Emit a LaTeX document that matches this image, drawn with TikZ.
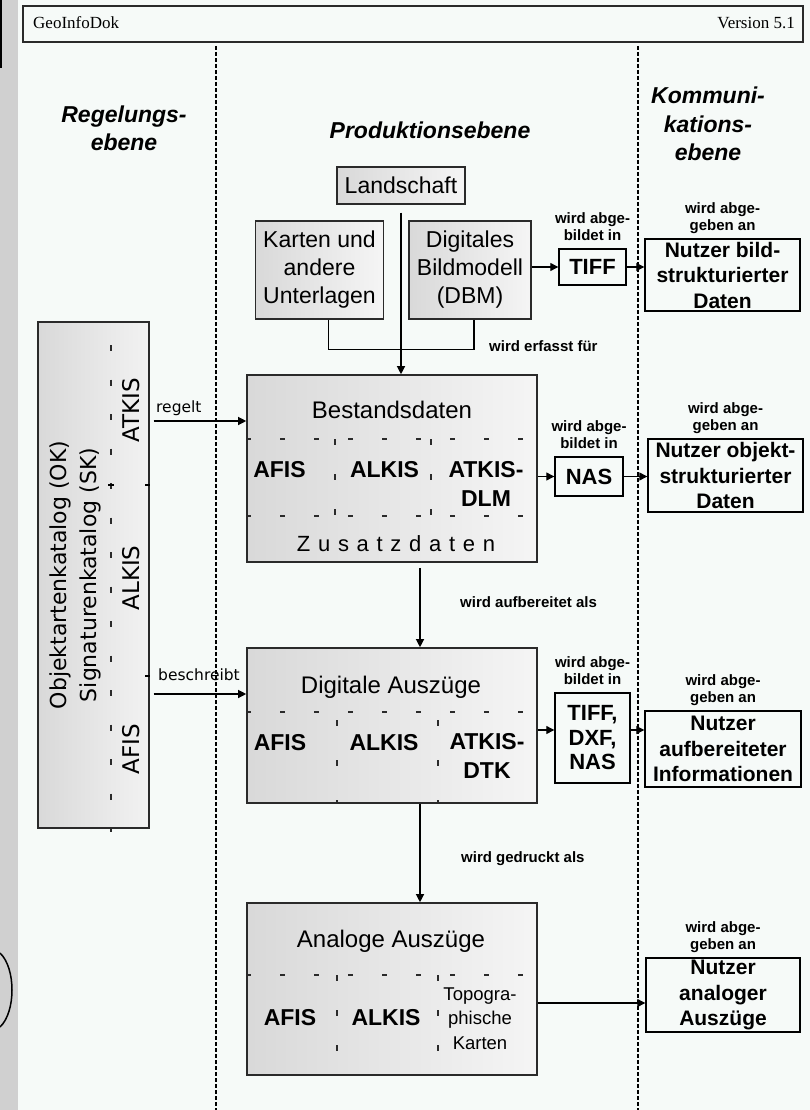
\documentclass[tikz,border=0pt]{standalone}
\usepackage{fontspec}
\setmainfont{Liberation Sans}
\newfontfamily\kopffont{Liberation Serif}
\newfontfamily\dejavu{DejaVu Sans}
\usepackage{tikz}
\usetikzlibrary{arrows.meta,positioning,calc}

\definecolor{papier}{HTML}{F6FAF8}
\definecolor{rand}{HTML}{D0D0D0}
\definecolor{linie}{HTML}{2A2A2A}
\newcommand{\fsz}[2]{\fontsize{#1}{#2}\selectfont}

\begin{document}
\begin{tikzpicture}[
    x=1pt, y=-1pt,
    ebene/.style={align=center, inner sep=0pt, font=\fsz{23}{28.5}\bfseries\itshape},
    quelle/.style={draw=linie, line width=1.4pt, left color=black!15, right color=black!4, align=center, inner sep=0pt, font=\fsz{23}{28}},
    bestand/.style={draw=linie, line width=1.6pt, left color=black!15, right color=black!4, minimum width=290pt, inner sep=0pt},
    titel/.style={anchor=base, inner sep=0pt, font=\fsz{24}{28}},
    teil/.style={anchor=base, align=center, inner sep=0pt, font=\fsz{23}{28.5}\bfseries},
    format/.style={draw, line width=1.4pt, align=center, inner sep=0pt, font=\fsz{22}{24.5}\bfseries},
    nutzer/.style={draw, line width=1.4pt, align=center, inner sep=0pt, minimum width=155pt, font=\fsz{21}{25.5}\bfseries},
    hinweis/.style={align=center, inner sep=0pt, font=\fsz{15}{17}\bfseries},
    verb/.style={anchor=base west, inner sep=0pt, font=\dejavu\fsz{15.5}{18}},
    pfeil/.style={line width=1.2pt, -{Triangle[length=8pt,width=8pt]}},
    spalte/.style={line width=1.2pt, dash pattern=on 4pt off 2pt},
    trenn/.style={line width=1.1pt, linie, dash pattern=on 5pt off 29pt},
    trennv/.style={line width=1.1pt, linie, dash pattern=on 6pt off 29pt}
  ]
    \useasboundingbox (0,0) rectangle (810,1110);
    \fill[rand] (0,0) rectangle (18,1110);
    \fill[papier] (18,0) rectangle (810,1110);
    \draw[line width=1.5pt] (0.75,0) -- (0.75,68);
    \draw[line width=1.5pt] (0,953) .. controls (16,968) and (16,1012) .. (0,1027);

    % Kopfzeile
    \node[draw=linie, line width=1.4pt, minimum width=780pt, minimum height=36pt, inner sep=0pt] (kopf) at (413,24) {};
    \node[anchor=base west, inner sep=0pt, font=\kopffont\fsz{17}{20}] (doktitel) at (33,29) {GeoInfoDok};
    \node[anchor=base east, inner sep=0pt, font=\kopffont\fsz{17}{20}] (version) at (795,29) {Version 5.1};

    % Ebenen (base = letzte Zeile)
    \draw[spalte] (216,46) -- (216,1110);
    \draw[spalte] (638,46) -- (638,1110);
    \node[ebene, anchor=base] (regelung) at (124,151) {Regelungs-\\ebene};
    \node[ebene, anchor=base] (produktion) at (430,139) {Produktionsebene};
    \node[ebene, anchor=base] (kommunikation) at (708,161) {Kommuni-\\kations-\\ebene};

    % Quellen
    \node[quelle, minimum width=128pt, minimum height=37pt] (landschaft) at (401,185.5) {Landschaft};
    \node[quelle, minimum width=128pt, minimum height=98pt] (karten) at (319.5,270) {Karten und\\andere\\Unterlagen};
    \node[quelle, minimum width=122pt, minimum height=98pt] (dbm) at (470,270) {Digitales\\Bildmodell\\(DBM)};

    % Kataloge
    \node[draw=linie, line width=1.4pt, left color=black!15, right color=black!5, minimum width=111pt, minimum height=506pt, inner sep=0pt] (katalog) at (93.5,575) {};
    \node[rotate=90, align=center, inner sep=0pt, font=\dejavu\fsz{22}{30}] (katalogtext) at (75,575) {Objektartenkatalog (OK)\\Signaturenkatalog (SK)};
    \draw[trennv, dash pattern=on 6pt off 28.5pt] (111,345) -- (111,832);
    \node[rotate=90, inner sep=0pt, font=\dejavu\fsz{23}{25}] (katatkis) at (131,410) {ATKIS};
    \node[rotate=90, inner sep=0pt, font=\dejavu\fsz{23}{25}] (katalkis) at (131,578) {ALKIS};
    \node[rotate=90, inner sep=0pt, font=\dejavu\fsz{23}{25}] (katafis) at (131,749) {AFIS};
    \draw[line width=1.1pt] (katalog.east |- 0,485) -- ++(-5,0);
    \draw[line width=1.1pt] (katalog.east |- 0,676) -- ++(-5,0);
    \draw[line width=1.1pt] (108,485) -- (114,485);

    % Bestandsdaten
    \node[bestand, minimum height=187pt] (bestand) at (392,468.5) {};
    \node[titel] (bestandtitel) at (392,418) {Bestandsdaten};
    \draw[trenn] (bestand.west |- 0,439) -- (bestand.east |- 0,439);
    \draw[trenn] (bestand.west |- 0,516) -- (bestand.east |- 0,516);
    \draw[trennv] (335,439) -- (335,516);
    \draw[trennv] (431,439) -- (431,516);
    \node[teil] (bafis) at (279.5,477) {AFIS};
    \node[teil] (balkis) at (384.5,477) {ALKIS};
    \node[teil] (batkis) at (486,506) {ATKIS-\\DLM};
    \node[anchor=base, inner sep=0pt, font=\fsz{22}{24}\addfontfeatures{LetterSpace=35}] (zusatz) at (396,551) {Zusatzdaten};

    % Digitale Auszuege
    \node[bestand, minimum height=155pt] (digital) at (392,725.5) {};
    \node[titel] (digitaltitel) at (391,693) {Digitale Auszüge};
    \draw[trenn] (digital.west |- 0,712) -- (digital.east |- 0,712);
    \draw[trennv, dash pattern=on 6pt off 34pt] (337,720) -- (337,803);
    \draw[trennv, dash pattern=on 6pt off 34pt] (438,720) -- (438,803);
    \node[teil] (dafis) at (280,750) {AFIS};
    \node[teil] (dalkis) at (384,750) {ALKIS};
    \node[teil] (datkis) at (487,778) {ATKIS-\\DTK};

    % Analoge Auszuege
    \node[bestand, minimum height=172pt] (analog) at (392,989) {};
    \node[titel] (analogtitel) at (391,947) {Analoge Auszüge};
    \draw[trenn] (analog.west |- 0,975) -- (analog.east |- 0,975);
    \draw[trennv] (337,975) -- (337,1075);
    \draw[trennv] (438,975) -- (438,1075);
    \node[teil] (aafis) at (290,1025) {AFIS};
    \node[teil] (aalkis) at (386,1025) {ALKIS};
    \node[anchor=base, align=center, inner sep=0pt, font=\fsz{18.5}{24.5}] (akarten) at (480,1049) {Topogra-\\phische\\Karten};

    % Formate und Nutzer
    \node[format, minimum width=67pt, minimum height=36pt] (tiff) at (592.5,267) {TIFF};
    \node[format, minimum width=68pt, minimum height=39pt] (nas) at (589,476.5) {NAS};
    \node[format, minimum width=75pt, minimum height=90pt] (formate) at (592.5,738) {TIFF,\\DXF,\\NAS};
    \node[nutzer, minimum height=72pt] (nutzerbild) at (722.5,275) {Nutzer bild-\\strukturierter\\Daten};
    \node[nutzer, minimum height=73pt] (nutzerobjekt) at (725.5,475.5) {Nutzer objekt-\\strukturierter\\Daten};
    \node[nutzer, minimum height=76pt, minimum width=156pt] (nutzerinfo) at (723,749) {Nutzer\\aufbereiteter\\Informationen};
    \node[nutzer, minimum height=74pt, minimum width=154pt] (nutzeranalog) at (723,995) {Nutzer\\analoger\\Auszüge};

    \node[hinweis, above=7pt of tiff] (abbild1) {wird abge-\\bildet in};
    \node[hinweis, above=7pt of nas] (abbild2) {wird abge-\\bildet in};
    \node[hinweis, above=7pt of formate] (abbild3) {wird abge-\\bildet in};
    \node[hinweis, above=4pt of nutzerbild] (abgabe1) {wird abge-\\geben an};
    \node[hinweis, above=4pt of nutzerobjekt] (abgabe2) {wird abge-\\geben an};
    \node[hinweis, above=4pt of nutzerinfo] (abgabe3) {wird abge-\\geben an};
    \node[hinweis, above=4pt of nutzeranalog] (abgabe4) {wird abge-\\geben an};
    \node[hinweis, anchor=base west] (erfasst) at (489,351) {wird erfasst für};
    \node[hinweis, anchor=base west] (aufbereitet) at (460,607) {wird aufbereitet als};
    \node[hinweis, anchor=base west] (gedruckt) at (461,862) {wird gedruckt als};
    \node[verb] (regelt) at (156,412) {regelt};
    \node[verb] (beschreibt) at (158,680) {beschreibt};

    % Verbindungen
    \draw[pfeil, shorten <=8pt] (landschaft.south) -- (landschaft.south |- bestand.north);
    \draw[line width=1.2pt] ([xshift=9pt]karten.south) -- ++(0,30) -| ([xshift=4pt]dbm.south);
    \draw[pfeil] (dbm.east |- tiff.west) -- (tiff.west);
    \draw[pfeil] (tiff.east) -- (tiff.east -| nutzerbild.west);
    \draw[pfeil] (bestand.east |- nas.west) -- (nas.west);
    \draw[pfeil] (nas.east) -- (nas.east -| nutzerobjekt.west);
    \coordinate (digitalhoehe) at (0,730);
    \draw[pfeil] (digital.east |- digitalhoehe) -- (formate.west |- digitalhoehe);
    \draw[pfeil] (formate.east |- digitalhoehe) -- (nutzerinfo.west |- digitalhoehe);
    \coordinate (analoghoehe) at (0,1003);
    \draw[pfeil] (analog.east |- analoghoehe) -- (nutzeranalog.west |- analoghoehe);
    \draw[pfeil, shorten <=4pt] (katalog.east |- 0,421) -- (bestand.west |- 0,421);
    \draw[pfeil, shorten <=4pt] (katalog.east |- 0,694) -- (digital.west |- 0,694);
    \draw[pfeil] ([xshift=28pt,yshift=-5pt]bestand.south) -- ([xshift=28pt]digital.north);
    \draw[pfeil] ([xshift=28pt]digital.south) -- ([xshift=28pt]analog.north);
  \end{tikzpicture}
\end{document}
